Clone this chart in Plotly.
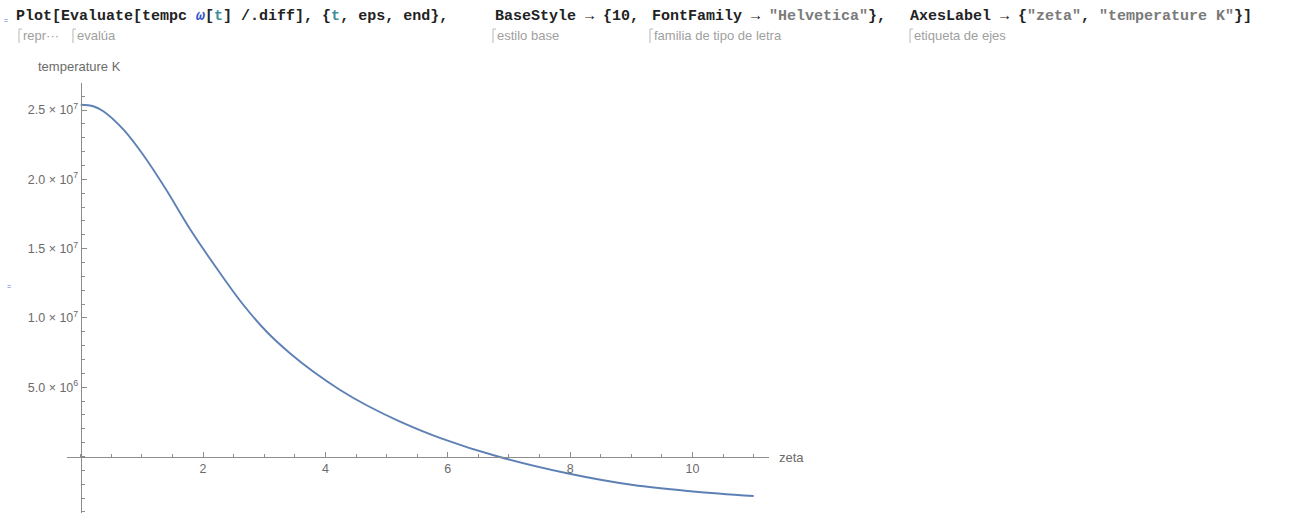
import plotly.graph_objects as go

# ---- data ----
zeta = [0.0, 0.206, 0.37, 0.70, 1.02, 1.38, 1.81, 2.28, 2.66, 3.04, 3.42, 3.81, 4.24,
        4.68, 5.22, 5.88, 6.82, 7.95, 9.03, 10.01, 11.0]
temp_e6 = [25.38, 25.27, 24.91, 23.58, 21.77, 19.37, 16.25, 13.22, 10.93, 9.00, 7.45, 6.09, 4.80,
           3.68, 2.52, 1.33, 0.0, -1.21, -2.06, -2.52, -2.85]
temperature = [v * 1e6 for v in temp_e6]

x_ticks = [2, 4, 6, 8, 10]
x_ticklabels = ["2", "4", "6", "8", "10"]
y_ticks = [5e6, 1e7, 1.5e7, 2e7, 2.5e7]
y_ticklabels = ["5.0 × 10<sup>6</sup>", "1.0 × 10<sup>7</sup>", "1.5 × 10<sup>7</sup>",
                "2.0 × 10<sup>7</sup>", "2.5 × 10<sup>7</sup>"]

# ---- geometry ----
W, H = 1296, 515
ML, MR, MT, MB = 67, 527, 83, 2
PW, PH = W - ML - MR, H - MT - MB
XMIN, XMAX = -0.224, 11.25
YMIN, YMAX = -4.076e6, 2.6948e7

def px(x):
    return (x - ML) / PW

def py(y):
    return (H - MB - y) / PH

AX = "#8c8c8c"
LBL = "#6b6b6b"
FONT = "Liberation Sans, Arial, Helvetica, sans-serif"
FS = 12.5

fig = go.Figure()
fig.add_trace(go.Scatter(x=zeta, y=temperature, mode="lines",
                         line=dict(color="#5E81B5", width=1.9, shape="spline", smoothing=1.0),
                         hoverinfo="skip", showlegend=False))

fig.update_layout(
    width=W, height=H,
    margin=dict(l=ML, r=MR, t=MT, b=MB, autoexpand=False),
    paper_bgcolor="white", plot_bgcolor="white",
    font=dict(family=FONT, size=FS, color=LBL),
    xaxis=dict(range=[XMIN, XMAX], showgrid=False, zeroline=False,
               showline=True, linecolor=AX, linewidth=1,
               anchor="free", position=(0 - YMIN) / (YMAX - YMIN),
               tickmode="array", tickvals=x_ticks, ticktext=x_ticklabels,
               ticks="inside", ticklen=5, tickcolor=AX, tickwidth=1,
               minor=dict(ticks="inside", ticklen=3, tickcolor=AX, dtick=0.5, tick0=0, showgrid=False),
               tickfont=dict(family=FONT, size=FS, color=LBL), automargin=False, fixedrange=True),
    yaxis=dict(range=[YMIN, YMAX], showgrid=False, zeroline=False,
               showline=True, linecolor=AX, linewidth=1,
               anchor="free", position=(0 - XMIN) / (XMAX - XMIN),
               tickmode="array", tickvals=y_ticks, ticktext=y_ticklabels,
               ticks="inside", ticklen=5, tickcolor=AX, tickwidth=1,
               minor=dict(ticks="inside", ticklen=3, tickcolor=AX, dtick=1e6, tick0=0, showgrid=False),
               tickfont=dict(family=FONT, size=FS, color=LBL), automargin=False, fixedrange=True),
)

ann = []
# axis labels
ann.append(dict(x=px(36), y=py(67), xref="paper", yref="paper", xanchor="left", yanchor="middle",
                text="temperature K", showarrow=False, font=dict(family=FONT, size=13, color=LBL)))
ann.append(dict(x=px(777), y=py(457), xref="paper", yref="paper", xanchor="left", yanchor="middle",
                text="zeta", showarrow=False, font=dict(family=FONT, size=13, color=LBL)))

# notebook input line
MONO = "Liberation Mono, Courier New, monospace"
TEAL = "#3f8ea0"
BLUE = "#3355cc"
STR = "#7a7a7a"
code_segments = [
    (14, "<b>Plot[Evaluate[tempc <i style='color:%s'>ω</i>[<span style='color:%s'>t</span>] /.diff], {<span style='color:%s'>t</span>, eps, end},</b>" % (BLUE, TEAL, TEAL)),
    (493, "<b>BaseStyle → {10,</b>"),
    (650, "<b>FontFamily → <span style='color:%s'>\"Helvetica\"</span>},</b>" % STR),
    (908, "<b>AxesLabel → {<span style='color:%s'>\"zeta\"</span>, <span style='color:%s'>\"temperature K\"</span>}]</b>" % (STR, STR)),
]
for x0, t in code_segments:
    ann.append(dict(x=px(x0), y=py(17), xref="paper", yref="paper", xanchor="left", yanchor="middle",
                    text=t, showarrow=False, font=dict(family=MONO, size=15, color="#222222")))

# hint labels
hints = [(19, "repr···"), (73, "evalúa"), (493, "estilo base"), (650, "familia de tipo de letra"),
         (910, "etiqueta de ejes")]
shapes = []
for x0, t in hints:
    ann.append(dict(x=px(x0 + 2), y=py(36), xref="paper", yref="paper", xanchor="left", yanchor="middle",
                    text=t, showarrow=False, font=dict(family=FONT, size=13, color="#a0a0a0")))
    shapes.append(dict(type="path", xref="paper", yref="paper",
                       path="M %f %f L %f %f L %f %f" % (px(x0 + 3), py(29), px(x0), py(29), px(x0), py(43)),
                       line=dict(color="#b8b8b8", width=1)))

# small cell markers
for (mx, my) in [(6, 20), (9, 286)]:
    ann.append(dict(x=px(mx), y=py(my), xref="paper", yref="paper", xanchor="center", yanchor="middle",
                    text="=", showarrow=False, font=dict(family=FONT, size=7, color="#5a6fd8")))

fig.update_layout(annotations=ann, shapes=shapes)
fig.write_html("out.html")
